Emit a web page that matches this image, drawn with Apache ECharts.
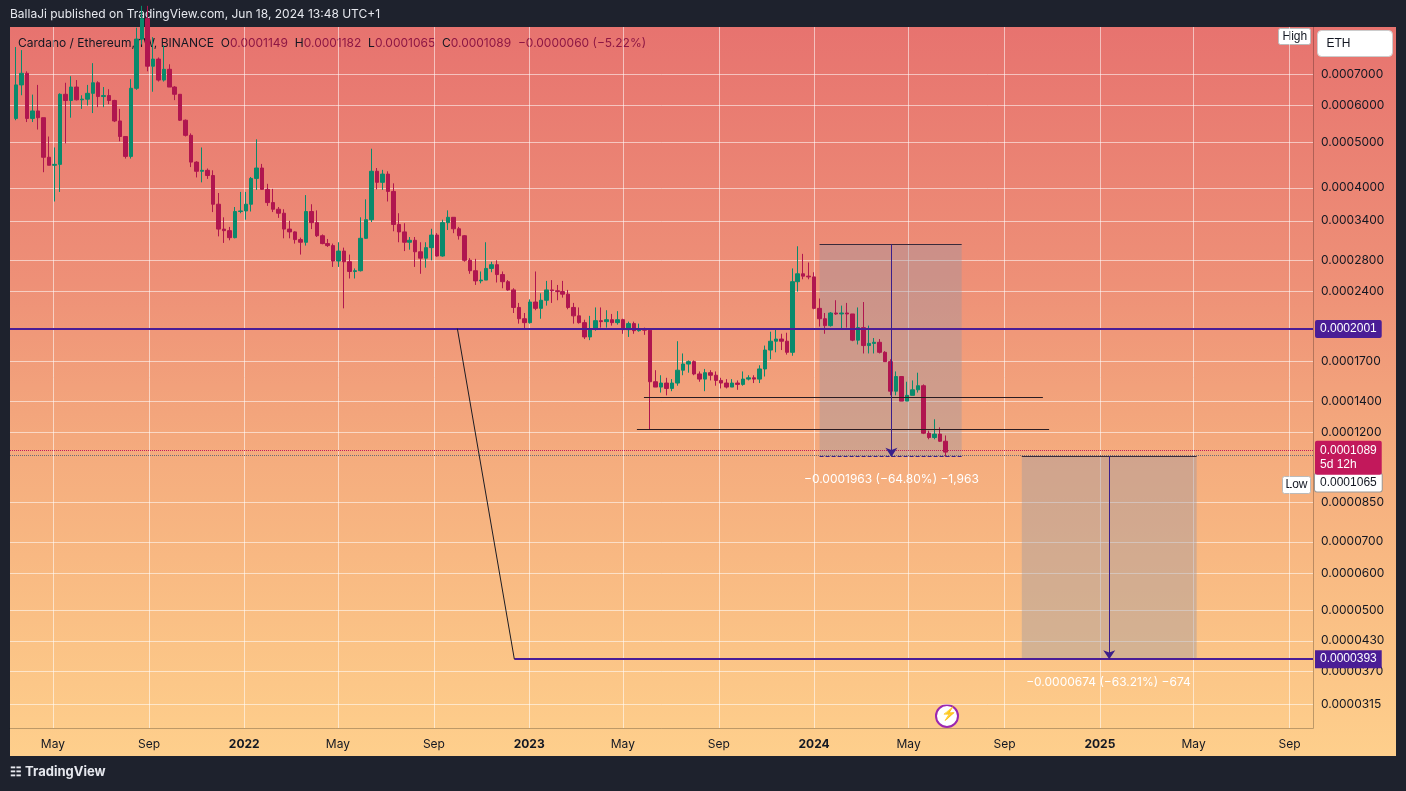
<!DOCTYPE html>
<html>
<head>
<meta charset="utf-8">
<script src="https://cdn.jsdelivr.net/npm/echarts@6/dist/echarts.min.js"></script>
<style>
  html, body { margin: 0; padding: 0; background: #1e222d; }
  #wrap { position: relative; width: 1406px; height: 791px; background: #1e222d; }
  #bg { position: absolute; left: 10px; top: 27px; width: 1386px; height: 729px;
        background: linear-gradient(180deg, #e7736f 0%, #ee9077 35%, #f5ad7e 60%, #fbc386 85%, #fecf8c 100%); }
  #chart { position: absolute; left: 0; top: 0; width: 1406px; height: 791px; }
</style>
</head>
<body>
<div id="wrap"><div id="bg"></div><div id="chart"></div></div>
<script>
// prices in units of 0.0000001 ETH, weekly candles from 2021-03-15
const firstWeek = Date.UTC(2021, 2, 15);
const firstOpen = 5630;
const closes = [
  6640, 7030, 5630, 5840, 5650, 4650, 4470, 4490, 6340, 6150,
  6570, 6170, 6190, 6370, 6710, 6270, 6300, 6150, 5560, 5150,
  4670, 6530, 8320, 9200, 7280, 7540, 6800, 7170, 6570, 6340,
  5580, 5180, 4540, 4340, 4360, 4250, 3690, 3265, 3240, 3130,
  3560, 3570, 3690, 4190, 4410, 3970, 3720, 3600, 3530, 3265,
  3220, 3100, 3060, 3560, 3370, 3160, 3040, 3010, 2790, 2930,
  2780, 2650, 2660, 3120, 3420, 4340, 4110, 4280, 3930, 3340,
  3220, 3060, 3090, 2920, 2830, 2980, 3170, 2860, 3370, 3460,
  3270, 3160, 2800, 2660, 2530, 2540, 2690, 2740, 2610, 2520,
  2420, 2220, 2100, 2060, 2280, 2210, 2300, 2420, 2410, 2400,
  2370, 2220, 2130, 2060, 1920, 2000, 2080, 2070, 2090, 2060,
  2090, 1990, 2050, 1980, 2000, 1985, 1540, 1500, 1530, 1490,
  1530, 1630, 1680, 1700, 1600, 1560, 1610, 1590, 1550, 1530,
  1500, 1530, 1520, 1560, 1570, 1560, 1640, 1800, 1880, 1900,
  1880, 1780, 2520, 2620, 2590, 2580, 2210, 2100, 2030, 2160,
  2150, 2160, 2150, 1890, 2010, 1840, 1860, 1870, 1780, 1700,
  1470, 1580, 1400, 1440, 1480, 1510, 1195, 1170, 1190, 1149,
  1089
];
const highs = [
  8000, 7880, 7100, 6330, 6640, 5650, 5150, 4880, 6370, 6710,
  6930, 6800, 6310, 6640, 7390, 6760, 6570, 6500, 6170, 5900,
  5150, 6830, 8800, 9800, 9800, 8400, 7600, 8070, 7350, 6600,
  6340, 5600, 5230, 4560, 4880, 4400, 4360, 3900, 3460, 3300,
  3640, 3920, 3920, 4220, 5080, 4500, 4080, 3980, 3640, 3600,
  3400, 3230, 3130, 3860, 3690, 3580, 3180, 3110, 3040, 3060,
  2980, 2880, 2690, 3460, 3780, 4850, 4410, 4370, 4340, 4090,
  3530, 3360, 3140, 3140, 3060, 3060, 3270, 3200, 3420, 3580,
  3460, 3300, 3170, 2830, 2820, 2650, 3060, 2780, 2800, 2650,
  2540, 2440, 2270, 2160, 2310, 2650, 2380, 2530, 2540, 2480,
  2530, 2420, 2270, 2220, 2090, 2130, 2220, 2220, 2190, 2150,
  2180, 2100, 2070, 2070, 2050, 2010, 2000, 1630, 1590, 1570,
  1560, 1880, 1770, 1710, 1710, 1620, 1640, 1630, 1620, 1570,
  1560, 1560, 1550, 1620, 1590, 1590, 1670, 1840, 1970, 1990,
  1950, 1960, 2690, 3000, 2890, 2770, 2640, 2320, 2160, 2170,
  2300, 2240, 2270, 2150, 2220, 2280, 2030, 1910, 1900, 1790,
  1720, 1620, 1580, 1540, 1550, 1610, 1520, 1210, 1280, 1230,
  1182
];
const lows = [
  5580, 6310, 5530, 5530, 5330, 4320, 4470, 3740, 3920, 4980,
  5650, 6150, 5900, 6000, 5780, 5950, 5950, 6040, 5530, 5030,
  4620, 4620, 6480, 8100, 7100, 6420, 6750, 6750, 6570, 6160,
  5560, 5150, 4430, 4210, 4110, 4180, 3550, 3150, 3050, 3090,
  3120, 3530, 3420, 3560, 3960, 3960, 3660, 3550, 3450, 3120,
  3120, 3040, 2880, 3010, 3265, 3140, 3030, 2990, 2710, 2710,
  2210, 2560, 2560, 2650, 3110, 3380, 3970, 3960, 3740, 3230,
  3060, 2930, 2950, 2710, 2620, 2700, 2800, 2850, 2850, 3250,
  3200, 3100, 2780, 2620, 2480, 2500, 2540, 2640, 2510, 2440,
  2410, 2160, 2050, 2000, 2050, 2190, 2100, 2240, 2270, 2300,
  2330, 2200, 2050, 2050, 1900, 1890, 1980, 2010, 2010, 2030,
  2040, 1950, 1920, 1950, 1970, 1940, 1218, 1500, 1460, 1440,
  1470, 1510, 1590, 1610, 1590, 1540, 1470, 1550, 1510, 1490,
  1490, 1500, 1480, 1510, 1550, 1530, 1530, 1580, 1720, 1780,
  1800, 1760, 1750, 2400, 2550, 2550, 2200, 2020, 1950, 2020,
  2140, 2000, 2010, 1880, 1850, 1770, 1770, 1770, 1770, 1700,
  1440, 1440, 1400, 1400, 1440, 1460, 1190, 1160, 1160, 1145,
  1065
];
const priceTicks = [7000, 6000, 5000, 4000, 3400, 2800, 2400, 1700, 1400, 1200, 850, 700, 600, 500, 430, 370, 315];
const monthTicks = ['2021-05-01', '2021-09-01', '2022-01-01', '2022-05-01', '2022-09-01', '2023-01-01', '2023-05-01',
  '2023-09-01', '2024-01-01', '2024-05-01', '2024-09-01', '2025-01-01', '2025-05-01', '2025-09-01'];
const monthNames = ['Jan', 'Feb', 'Mar', 'Apr', 'May', 'Jun', 'Jul', 'Aug', 'Sep', 'Oct', 'Nov', 'Dec'];

const UNIT = 1e-7;
const lg = (u) => Math.log10(u * UNIT);
const day = (s) => Date.parse(s + 'T00:00:00Z');

const green = '#0a8a6c';
const red = '#b0164f';
const purple = '#4a1d96';

const candles = closes.map((c, i) => {
  const o = i === 0 ? firstOpen : closes[i - 1];
  return [firstWeek + i * 7 * 864e5, lg(o), lg(c), lg(lows[i]), lg(highs[i])];
});

const chart = echarts.init(document.getElementById('chart'));
const hLine = (u, color, type, width, label) => ({
  yAxis: lg(u), lineStyle: { color, type, width },
  label: label ? Object.assign({ show: true, position: 'end', distance: 2, fontSize: 12, padding: [3, 5], borderRadius: 2 }, label) : { show: false },
});
const seg = (d1, u1, d2, u2, color, width, endSymbol) => [
  { coord: [day(d1), lg(u1)], symbol: 'none', lineStyle: { color, width, type: 'solid' } },
  { coord: [day(d2), lg(u2)], symbol: endSymbol || 'none', symbolSize: 9 },
];

chart.setOption({
  animation: false,
  backgroundColor: 'transparent',
  grid: { left: 10, right: 93, top: 27, bottom: 63 },
  xAxis: {
    type: 'value', min: day('2021-03-07'), max: day('2025-10-01'),
    axisLine: { show: true, lineStyle: { color: 'rgba(0,0,0,0.25)' } },
    axisTick: { show: false, customValues: monthTicks.map(day) },
    splitLine: { show: true, lineStyle: { color: 'rgba(255,255,255,0.55)' } },
    axisLabel: {
      customValues: monthTicks.map(day), color: '#131722', fontSize: 12, margin: 10,
      fontFamily: 'Inter, Roboto, sans-serif',
      formatter: (v) => {
        const d = new Date(v);
        return d.getUTCMonth() === 0 ? '{y|' + d.getUTCFullYear() + '}' : monthNames[d.getUTCMonth()];
      },
      rich: { y: { fontWeight: 'bold', fontSize: 12, color: '#131722' } },
    },
  },
  yAxis: {
    type: 'value', position: 'right', min: Math.log10(0.0000280), max: Math.log10(0.000883),
    axisLine: { show: true, lineStyle: { color: 'rgba(0,0,0,0.25)' } },
    axisTick: { show: false, customValues: priceTicks.map(lg) },
    splitLine: { show: true, lineStyle: { color: 'rgba(255,255,255,0.55)' } },
    axisLabel: {
      customValues: priceTicks.map(lg), color: '#131722', fontSize: 12, margin: 8,
      fontFamily: 'Inter, Roboto, sans-serif',
      formatter: (v) => Math.pow(10, v).toFixed(7),
    },
  },
  series: [{
    type: 'candlestick',
    data: candles,
    encode: { x: 0, y: [1, 2, 3, 4] },
    barWidth: 4,
    clip: true,
    itemStyle: { color: green, color0: red, borderColor: green, borderColor0: red, borderWidth: 1 },
    markArea: {
      silent: true,
      itemStyle: { color: 'rgba(150,150,165,0.38)' },
      data: [
        [{ coord: [day('2024-01-08'), lg(3028)] }, { coord: [day('2024-07-08'), lg(1065)] }],
        [{ coord: [day('2024-09-23'), lg(1067)] }, { coord: [day('2025-05-05'), lg(393)] }],
      ],
    },
    markLine: {
      silent: true, symbol: ['none', 'none'],
      label: { show: false },
      data: [
        hLine(1065, '#6b6b78', 'dotted', 1, { formatter: '0.0001065', backgroundColor: '#ffffff', color: '#131722', borderColor: '#999', borderWidth: 1, offset: [0, 27] }),
        hLine(1089, '#c2185b', 'dotted', 1, { formatter: '0.0001089\n{s|5d 12h}', backgroundColor: '#c2185b', color: '#fff', lineHeight: 14, offset: [0, 7], rich: { s: { color: '#fff', fontSize: 12 } } }),
        hLine(2001, purple, 'solid', 2, { formatter: '0.0002001', backgroundColor: purple, color: '#fff' }),
        [
          { coord: [day('2022-12-13'), lg(393)], symbol: 'none', lineStyle: { color: purple, width: 2, type: 'solid' },
            label: { show: true, position: 'end', formatter: '0.0000393', backgroundColor: purple, color: '#fff', fontSize: 12, padding: [3, 5], distance: 2 } },
          { coord: [day('2025-10-01'), lg(393)], symbol: 'none' },
        ],
        seg('2022-10-01', 2001, '2022-12-13', 393, '#1c1c24', 1),
        seg('2023-05-28', 1427, '2024-10-20', 1427, '#2a1c22', 1),
        seg('2023-05-19', 1218, '2024-10-28', 1218, '#2a1c22', 1),
        seg('2024-01-08', 3028, '2024-07-08', 3028, '#3a2a3a', 1),
        seg('2024-04-09', 3028, '2024-04-09', 1065, '#3b1f8a', 1, 'arrow'),
        [{ coord: [day('2024-01-08'), lg(1065)], symbol: 'none', lineStyle: { color: '#3b1f8a', width: 1, type: 'dashed' } },
         { coord: [day('2024-07-08'), lg(1065)], symbol: 'none' }],
        seg('2024-09-23', 1067, '2025-05-05', 1067, '#3a2a3a', 1),
        seg('2025-01-13', 1067, '2025-01-13', 393, '#3b1f8a', 1, 'arrow'),
      ],
    },
    markPoint: {
      silent: true, symbol: 'rect', symbolSize: 1, itemStyle: { color: 'rgba(0,0,0,0)' },
      label: { show: true, color: '#ffffff', fontSize: 12, position: 'inside', fontFamily: 'Inter, Roboto, sans-serif' },
      data: [
        { coord: [day('2024-04-09'), lg(952)], label: { formatter: '\u22120.0001963 (\u221264.80%) \u22121,963' } },
        { coord: [day('2025-01-12'), lg(350)], label: { formatter: '\u22120.0000674 (\u221263.21%) \u2212674' } },
      ],
    },
  }],
  graphic: [
    { type: 'text', left: 10, top: 8, style: { text: 'BallaJi published on TradingView.com, Jun 18, 2024 13:48 UTC+1', fill: '#e6e8ee', fontSize: 12, fontFamily: 'Inter, Roboto, sans-serif' } },
    { type: 'text', left: 18, top: 37, style: {
      text: 'Cardano / Ethereum, 1W, BINANCE  O{v|0.0001149}  H{v|0.0001182}  L{v|0.0001065}  C{v|0.0001089}  {v|\u22120.0000060 (\u22125.22%)}',
      fill: '#131722', fontSize: 12, fontFamily: 'Inter, Roboto, sans-serif',
      rich: { v: { fill: '#8e1744', fontSize: 12, fontFamily: 'Inter, Roboto, sans-serif' } } } },
    { type: 'group', left: 1278, top: 28, children: [
      { type: 'rect', shape: { width: 32, height: 16, r: 2 }, style: { fill: '#fff', stroke: '#bbb' } },
      { type: 'text', x: 4, y: 2, style: { text: 'High', fill: '#131722', fontSize: 12 } } ] },
    { type: 'group', left: 1282, top: 476, children: [
      { type: 'rect', shape: { width: 28, height: 17, r: 2 }, style: { fill: '#fff', stroke: '#bbb' } },
      { type: 'text', x: 3, y: 2, style: { text: 'Low', fill: '#131722', fontSize: 12 } } ] },
    { type: 'group', left: 1317, top: 30, children: [
      { type: 'rect', shape: { width: 75, height: 26, r: 4 }, style: { fill: '#fff', stroke: '#ccc' } },
      { type: 'text', x: 9, y: 7, style: { text: 'ETH', fill: '#131722', fontSize: 12 } } ] },
    { type: 'group', left: 935, top: 704, children: [
      { type: 'circle', shape: { cx: 11, cy: 11, r: 11 }, style: { fill: '#fff', stroke: '#9c27b0', lineWidth: 2 } },
      { type: 'text', x: 5, y: 3, style: { text: '\u26A1', fill: '#9c27b0', fontSize: 13 } } ] },
    { type: 'text', left: 10, top: 766, style: { text: '\u2637 TradingView', fill: '#e6e8ee', fontSize: 13, fontWeight: 'bold', fontFamily: 'Inter, Roboto, sans-serif' } },
  ],
});
</script>
</body>
</html>
